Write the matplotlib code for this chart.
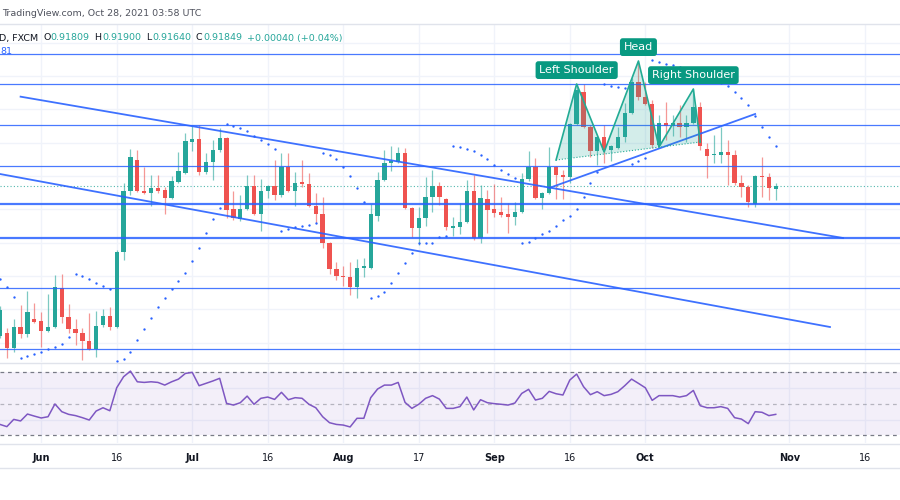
import numpy as np
import pandas as pd
import matplotlib
matplotlib.use('Agg')
import matplotlib.pyplot as plt
from matplotlib.lines import Line2D

# USDCHF daily (FXCM), 24 May - 28 Oct 2021
opens = [0.89600, 0.89645, 0.89420, 0.89735, 0.89630, 0.89855, 0.89825, 0.89675, 0.89735, 0.90320,
         0.89885, 0.89705, 0.89645, 0.89525, 0.89405, 0.89765, 0.89900, 0.89735, 0.90860, 0.91775,
         0.92240, 0.91775, 0.91745, 0.91820, 0.91790, 0.91670, 0.91910, 0.92045, 0.92510, 0.92555,
         0.92060, 0.92210, 0.92390, 0.92570, 0.91505, 0.91355, 0.91505, 0.91850, 0.91430, 0.91775,
         0.91850, 0.91715, 0.92135, 0.91775, 0.91910, 0.91880, 0.91550, 0.91430, 0.90995, 0.90605,
         0.90500, 0.90485, 0.90335, 0.90620, 0.90620, 0.91400, 0.91940, 0.92195, 0.92210, 0.92345,
         0.91520, 0.91220, 0.91370, 0.91685, 0.91850, 0.91655, 0.91220, 0.91235, 0.91310, 0.91775,
         0.91070, 0.91655, 0.91505, 0.91460, 0.91430, 0.91385, 0.91460, 0.91955, 0.92135, 0.91670,
         0.91745, 0.92135, 0.92015, 0.91985, 0.92780, 0.93260, 0.92735, 0.92375, 0.92585, 0.92390,
         0.92420, 0.92585, 0.92945, 0.93410, 0.93185, 0.93080, 0.92465, 0.92795, 0.92750, 0.92795,
         0.92735, 0.92795, 0.93035, 0.92405, 0.92315, 0.92315, 0.92360, 0.92315, 0.91895, 0.91835,
         0.91580, 0.92000, 0.91985, 0.91809]
highs = [0.90050, 0.89720, 0.89855, 0.90065, 0.90275, 0.90095, 0.89960, 0.90230, 0.90515, 0.90530,
         0.90080, 0.89855, 0.89720, 0.89945, 0.89975, 0.90005, 0.90035, 0.90890, 0.91895, 0.92405,
         0.92390, 0.92135, 0.92015, 0.92015, 0.91835, 0.92000, 0.92360, 0.92645, 0.92750, 0.92765,
         0.92345, 0.92540, 0.92720, 0.92585, 0.91775, 0.91715, 0.92015, 0.92015, 0.91955, 0.91865,
         0.92240, 0.92345, 0.92345, 0.92060, 0.92240, 0.92045, 0.91745, 0.91685, 0.91010, 0.90710,
         0.90650, 0.90710, 0.90755, 0.90770, 0.91580, 0.92060, 0.92390, 0.92450, 0.92435, 0.92420,
         0.91535, 0.91535, 0.91985, 0.92090, 0.91910, 0.91670, 0.91385, 0.91595, 0.91940, 0.92015,
         0.91865, 0.91790, 0.91880, 0.91685, 0.91595, 0.91610, 0.92045, 0.92375, 0.92270, 0.91760,
         0.92435, 0.92150, 0.92090, 0.92795, 0.93380, 0.93380, 0.92765, 0.92600, 0.92765, 0.92465,
         0.92735, 0.93095, 0.93470, 0.93725, 0.93410, 0.93140, 0.92915, 0.93110, 0.92915, 0.93065,
         0.92915, 0.93305, 0.93110, 0.92495, 0.92615, 0.92735, 0.92540, 0.92390, 0.92015, 0.91865,
         0.92015, 0.92285, 0.92045, 0.91900]
lows = [0.89570, 0.89270, 0.89360, 0.89570, 0.89585, 0.89795, 0.89435, 0.89660, 0.89720, 0.89795,
        0.89645, 0.89465, 0.89240, 0.89390, 0.89285, 0.89735, 0.89690, 0.89720, 0.90740, 0.91715,
        0.91760, 0.91730, 0.91550, 0.91745, 0.91430, 0.91655, 0.91895, 0.92030, 0.92375, 0.92015,
        0.92030, 0.91940, 0.92360, 0.91370, 0.91340, 0.91325, 0.91490, 0.91415, 0.91175, 0.91670,
        0.91640, 0.91685, 0.91760, 0.91550, 0.91835, 0.91535, 0.91295, 0.90920, 0.90530, 0.90440,
        0.90350, 0.90215, 0.90170, 0.90485, 0.90605, 0.91325, 0.91925, 0.92075, 0.92195, 0.91505,
        0.91085, 0.90965, 0.91250, 0.91460, 0.91565, 0.91190, 0.91100, 0.91130, 0.91295, 0.91040,
        0.90995, 0.91145, 0.91385, 0.91385, 0.91145, 0.91265, 0.91445, 0.91925, 0.91655, 0.91505,
        0.91730, 0.91655, 0.91655, 0.91895, 0.92765, 0.92720, 0.92285, 0.92165, 0.92195, 0.92225,
        0.92405, 0.92510, 0.92930, 0.93140, 0.93065, 0.92420, 0.92435, 0.92540, 0.92600, 0.92585,
        0.92510, 0.92780, 0.92390, 0.91970, 0.92195, 0.92195, 0.91865, 0.91865, 0.91685, 0.91535,
        0.91535, 0.91685, 0.91640, 0.91640]
closes = [0.89990, 0.89420, 0.89735, 0.89630, 0.89960, 0.89810, 0.89675, 0.89735, 0.90335, 0.89885,
          0.89705, 0.89645, 0.89525, 0.89405, 0.89750, 0.89900, 0.89735, 0.90860, 0.91775, 0.92285,
          0.91775, 0.91745, 0.91820, 0.91775, 0.91670, 0.91925, 0.92075, 0.92525, 0.92555, 0.92060,
          0.92210, 0.92390, 0.92570, 0.91490, 0.91370, 0.91505, 0.91850, 0.91430, 0.91775, 0.91850,
          0.91715, 0.92135, 0.91775, 0.91895, 0.91880, 0.91550, 0.91430, 0.90995, 0.90605, 0.90500,
          0.90485, 0.90335, 0.90620, 0.90650, 0.91430, 0.91940, 0.92195, 0.92225, 0.92345, 0.91520,
          0.91220, 0.91370, 0.91685, 0.91850, 0.91685, 0.91235, 0.91250, 0.91310, 0.91775, 0.91070,
          0.91670, 0.91490, 0.91445, 0.91415, 0.91385, 0.91460, 0.91955, 0.92135, 0.91670, 0.91745,
          0.92135, 0.92015, 0.91985, 0.92780, 0.93290, 0.92735, 0.92375, 0.92585, 0.92390, 0.92450,
          0.92585, 0.92945, 0.93410, 0.93185, 0.93080, 0.92465, 0.92795, 0.92750, 0.92795, 0.92735,
          0.92795, 0.93035, 0.92450, 0.92300, 0.92330, 0.92360, 0.92315, 0.91895, 0.91835, 0.91610,
          0.92000, 0.91985, 0.91820, 0.91849]

# Parabolic SAR
sar = [0.90455, 0.90335, 0.90185, 0.89270, 0.89300, 0.89330, 0.89360, 0.89405, 0.89435, 0.89480,
       0.89585, 0.90530, 0.90500, 0.90455, 0.90395, 0.90350, 0.90305, 0.89225, 0.89255, 0.89360,
       0.89540, 0.89705, 0.89870, 0.90035, 0.90170, 0.90305, 0.90425, 0.90545, 0.90725, 0.90920,
       0.91145, 0.91355, 0.91520, 0.92780, 0.92750, 0.92720, 0.92675, 0.92600, 0.92540, 0.92480,
       0.92405, 0.91175, 0.91205, 0.91235, 0.91250, 0.91265, 0.91295, 0.92345, 0.92315, 0.92255,
       0.92135, 0.92000, 0.91820, 0.91610, 0.90170, 0.90200, 0.90260, 0.90395, 0.90545, 0.90695,
       0.90845, 0.90995, 0.90995, 0.90995, 0.91085, 0.91100, 0.92450, 0.92435, 0.92405, 0.92375,
       0.92315, 0.92255, 0.92165, 0.92090, 0.92030, 0.91970, 0.90995, 0.91010, 0.91070, 0.91130,
       0.91175, 0.91250, 0.91340, 0.91400, 0.91505, 0.91685, 0.91895, 0.92060, 0.93380, 0.93350,
       0.93335, 0.93320, 0.92180, 0.92225, 0.92270, 0.93740, 0.93710, 0.93680, 0.93665, 0.93635,
       0.93605, 0.93575, 0.93530, 0.93485, 0.93440, 0.93395, 0.93350, 0.93260, 0.93170, 0.93065,
       0.92900, 0.92735, 0.92585, 0.92450]

# RSI(14)
rsi = [36.9, 35.5, 40.1, 39.1, 43.5, 42.2, 41.0, 41.8, 49.9, 45.0,
       43.3, 42.5, 41.2, 39.7, 45.4, 47.5, 45.6, 60.2, 67.2, 70.8,
       64.0, 63.6, 64.0, 63.6, 61.9, 64.0, 65.7, 69.3, 70.0, 61.5,
       63.0, 64.5, 66.2, 50.3, 49.2, 50.7, 54.9, 49.7, 53.5, 54.3,
       52.8, 57.3, 52.6, 53.9, 53.5, 49.7, 47.5, 41.8, 38.0, 36.9,
       36.5, 35.3, 40.8, 40.8, 53.9, 59.4, 61.9, 61.9, 63.6, 50.9,
       47.1, 49.7, 53.5, 55.2, 53.0, 47.1, 47.1, 48.2, 54.3, 46.1,
       52.6, 50.7, 50.1, 49.7, 49.2, 50.5, 56.6, 59.2, 52.4, 53.5,
       57.9, 56.4, 55.6, 65.1, 68.9, 60.9, 55.8, 57.7, 55.2, 56.0,
       57.7, 61.5, 65.7, 63.0, 60.2, 52.2, 55.2, 55.2, 55.2, 54.3,
       55.2, 58.5, 48.8, 47.5, 47.5, 48.2, 47.1, 41.2, 40.3, 37.4,
       45.0, 44.6, 42.5, 43.3]

tick_dates = ['2021-06-01', '2021-06-16', '2021-07-01', '2021-07-16', '2021-08-02', '2021-08-17',
              '2021-09-01', '2021-09-16', '2021-10-01', '2021-11-01', '2021-11-16']
tick_labels = ['Jun', '16', 'Jul', '16', 'Aug', '17', 'Sep', '16', 'Oct', 'Nov', '16']

# horizontal support / resistance levels
levels = [0.93830, 0.93385, 0.92770, 0.92150, 0.90325, 0.89410]
strong_levels = [0.91580, 0.91065]

# trend lines as (bar number, price)
channel_top = [(3.0, 0.93190), (122.8, 0.91070)]
channel_bottom = [(0.0, 0.92030), (120.9, 0.89735)]
neckline = [(80.0, 0.91820), (110.0, 0.92930)]

# head and shoulders drawing
hs_bars = [81, 84, 88, 93, 96, 101, 102]
hs_prices = [0.92240, 0.93380, 0.92360, 0.93725, 0.92435, 0.93305, 0.92510]
hs_names = {1: 'Left Shoulder', 3: 'Head', 5: 'Right Shoulder'}

GREEN, RED, BLUE, PURPLE = '#26a69a', '#ef5350', '#2962ff', '#7e57c2'
GRID, SEP = '#f0f3fa', '#e0e3eb'

W, H = 900, 500
fig = plt.figure(figsize=(W / 100, H / 100), dpi=100)


def fy(px):
    return 1 - px / H


ax = fig.add_axes([0, fy(362), 1, (362 - 24) / H])
ax_rsi = fig.add_axes([0, fy(443), 1, 79 / H], sharex=ax)

x = np.arange(len(closes))
o, hi, lo, c = (np.array(v) for v in (opens, highs, lows, closes))
col = np.where(c >= o, GREEN, RED)

# time grid
cal = pd.bdate_range('2021-05-24', '2021-11-30')
tick_pos = [cal.get_loc(pd.Timestamp(d)) for d in tick_dates]
for a in (ax, ax_rsi):
    for p in tick_pos:
        a.axvline(p, color=GRID, lw=1, zorder=0)
for p in np.arange(0.895, 0.9401, 0.005):
    ax.axhline(p, color=GRID, lw=1, zorder=0)

## Candles
ax.vlines(x, lo, hi, colors=col, lw=0.9, alpha=0.6, zorder=3)
ax.bar(x, np.maximum(np.abs(c - o), 0.00012), bottom=np.minimum(o, c), width=0.63,
       color=col, lw=0, zorder=3.5)
ax.plot(x, sar, ls='none', marker='o', ms=1.7, mew=0, color=BLUE, zorder=4)
ax.axhline(c[-1], color=GREEN, lw=0.8, ls=(0, (1, 2)), alpha=0.8, zorder=2)

## Drawings
for lv in levels:
    ax.axhline(lv, color=BLUE, lw=0.9, alpha=0.85, zorder=4)
for lv in strong_levels:
    ax.axhline(lv, color=BLUE, lw=1.6, alpha=0.85, zorder=4)
for line in (channel_top, channel_bottom, neckline):
    bx, py = zip(*line)
    ax.plot(bx, py, color=BLUE, lw=1.3, alpha=0.9, zorder=5)

hx, hy = np.array(hs_bars, float), np.array(hs_prices)
ax.fill(hx, hy, color=GREEN, alpha=0.2, lw=0, zorder=5)
ax.plot(hx, hy, color='#22ab94', lw=1.2, zorder=6)
ax.plot([hx[-1], hx[0]], [hy[-1], hy[0]], color='#22ab94', lw=0.8, ls=':', zorder=6)
for k, name in hs_names.items():
    ax.annotate(name, (hx[k], hy[k]), xytext=(0, 10), textcoords='offset points',
                ha='center', va='center', color='white', fontsize=8, zorder=9,
                bbox=dict(boxstyle='round,pad=0.35,rounding_size=0.25', fc='#089981', ec='none'))

ax.set_xlim(0, 131.1)
ax.set_ylim(0.8921, 0.9428)

## RSI panel
ax_rsi.axhspan(30, 70, color=PURPLE, alpha=0.09, lw=0)
for lvl, alpha in ((70, 1.0), (50, 0.5), (30, 1.0)):
    ax_rsi.axhline(lvl, color='#787b86', lw=0.9, ls=(0, (3, 3)), alpha=alpha)
for lvl in (40, 60):
    ax_rsi.axhline(lvl, color=GRID, lw=1, zorder=0)
ax_rsi.plot(x, rsi, color=PURPLE, lw=1.1)
ax_rsi.set_ylim(25.1, 75.3)

## Axes look
for a in (ax, ax_rsi):
    for s in a.spines.values():
        s.set_visible(False)
    a.set_yticks([])
ax.tick_params(axis='x', length=0, labelbottom=False)
ax_rsi.set_xticks(tick_pos)
ax_rsi.set_xticklabels(tick_labels, fontsize=7, color='#131722')
ax_rsi.tick_params(axis='x', length=0, pad=7.5)
for lbl in ax_rsi.get_xticklabels():
    if lbl.get_text().isalpha():
        lbl.set_fontweight('bold')

for py in (23.5, 363, 443.5, 468):
    fig.add_artist(Line2D([0, 1], [fy(py), fy(py)], color=SEP, lw=1))

## Header
hfont = dict(fontsize=6.8, va='center', family='DejaVu Sans')
fig.text(2 / W, fy(13), 'TradingView.com, Oct 28, 2021 03:58 UTC', color='#50535e', **hfont)
change = c[-1] - o[-1]
parts = [(-1, 'D, FXCM', '#131722'),
         (43, 'O', '#131722'), (50, f'{o[-1]:.5f}', GREEN),
         (94, 'H', '#131722'), (102, f'{hi[-1]:.5f}', GREEN),
         (146, 'L', '#131722'), (152, f'{lo[-1]:.5f}', GREEN),
         (196, 'C', '#131722'), (203, f'{c[-1]:.5f}', GREEN),
         (247, f'{change:+.5f} ({change / o[-1] * 100:+.2f}%)', GREEN)]
for px, txt, color in parts:
    fig.text(px / W, fy(38), txt, color=color, **hfont)
fig.text(0, fy(52), '81', color=BLUE, **hfont)

fig.savefig('out.png', dpi=100)
